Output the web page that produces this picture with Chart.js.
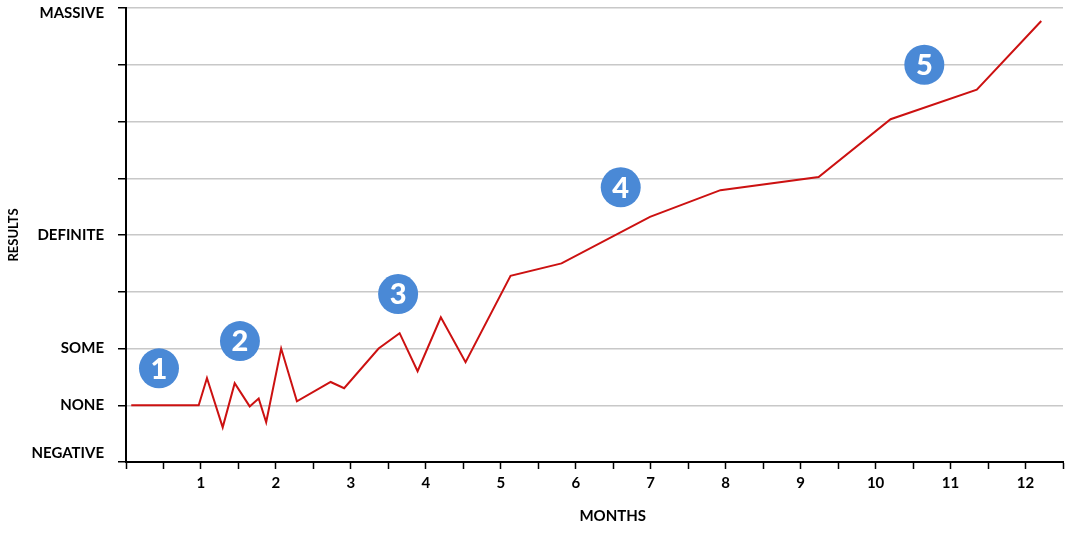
<!DOCTYPE html>
<html>
<head>
<meta charset="utf-8">
<script src="https://cdn.jsdelivr.net/npm/chart.js@4/dist/chart.umd.min.js"></script>
<style>
  html, body { margin: 0; padding: 0; background: #fff; }
  #wrap { width: 1085px; height: 535px; }
</style>
</head>
<body>
<div id="wrap"><canvas id="myChart"></canvas></div>
<script>
// months (x) and results (y)
const months  = [0.07, 0.97, 1.08, 1.29, 1.45, 1.65, 1.77, 1.87, 2.07, 2.28, 2.73, 2.91, 3.37, 3.65, 3.89, 4.20, 4.53, 5.13, 5.81, 6.99, 7.93, 9.24, 10.20, 11.35, 12.21];
const results = [0, 0, 0.48, -0.39, 0.39, -0.02, 0.12, -0.30, 1.00, 0.07, 0.41, 0.30, 1.00, 1.27, 0.60, 1.55, 0.76, 2.28, 2.50, 3.32, 3.79, 4.02, 5.04, 5.56, 6.77];

// numbered stage markers
const markerX = [0.44, 1.52, 3.63, 6.60, 10.65];
const markerY = [0.65, 1.13, 1.96, 3.84, 6.00];
const markerLabels = ['1', '2', '3', '4', '5'];

// y axis: only some steps get a name
const yTickValues = [-1, 0, 1, 3, 7];
const yTickNames  = [['NEGATIVE', ''], 'NONE', 'SOME', 'DEFINITE', ['', 'MASSIVE']];

const labelFont = { family: 'Lato', weight: 'bold', size: 15 };

// write the stage numbers inside the blue dots
const markerText = {
  id: 'markerText',
  afterDatasetsDraw(chart) {
    const meta = chart.getDatasetMeta(1);
    const ctx = chart.ctx;
    ctx.save();
    ctx.fillStyle = '#fff';
    ctx.font = '900 29px Lato';
    ctx.textAlign = 'center';
    ctx.textBaseline = 'middle';
    meta.data.forEach((pt, i) => {
      ctx.fillText(markerLabels[i], pt.x, pt.y + 1);
    });
    ctx.restore();
  }
};

const ctx = document.getElementById('myChart').getContext('2d');
new Chart(ctx, {
  type: 'line',
  data: {
    datasets: [{
      data: months.map((m, i) => ({ x: m, y: results[i] })),
      borderColor: '#cc1111',
      borderWidth: 2,
      pointRadius: 0,
      tension: 0
    }, {
      data: markerX.map((m, i) => ({ x: m, y: markerY[i] })),
      showLine: false,
      pointRadius: 20,
      pointBackgroundColor: '#4a89d6',
      pointBorderWidth: 0
    }]
  },
  options: {
    responsive: true,
    maintainAspectRatio: false,
    animation: false,
    layout: { autoPadding: false, padding: { top: 0, right: 22, bottom: 10, left: 0 } },
    plugins: {
      legend: { display: false },
      tooltip: { enabled: false }
    },
    scales: {
      x: {
        type: 'linear',
        min: 0,
        max: 12.5,
        afterFit: s => { s.height = 63; },
        border: { color: '#000', width: 2 },
        grid: { drawOnChartArea: false, tickColor: '#000', tickLength: 7, tickWidth: 1.5 },
        ticks: {
          stepSize: 0.5,
          autoSkip: false,
          maxRotation: 0,
          padding: 5,
          color: '#000',
          font: labelFont,
          callback: v => (Number.isInteger(v) && v > 0) ? String(v) : ''
        },
        title: {
          display: true,
          text: '          MONTHS',
          color: '#000',
          font: { family: 'Lato', weight: 'bold', size: 15 },
          padding: 0
        }
      },
      y: {
        min: -1,
        max: 7,
        afterFit: s => { s.width = 126; s.paddingTop = 8; s.paddingBottom = 0; },
        border: { color: '#000', width: 2 },
        grid: { color: '#c8c8c8', lineWidth: 1.5, tickColor: '#000', tickLength: 8, tickWidth: 1.5 },
        ticks: {
          stepSize: 1,
          autoSkip: false,
          padding: 14,
          color: '#000',
          font: c => (c.tick && c.tick.value === 7)
            ? { family: 'Lato', weight: 'bold', size: 15, lineHeight: 0.7 }
            : labelFont,
          callback: v => {
            const k = yTickValues.indexOf(v);
            return k >= 0 ? yTickNames[k] : '';
          }
        },
        title: {
          display: true,
          text: 'RESULTS',
          color: '#000',
          font: { family: 'Lato', weight: 'bold', size: 13 },
          padding: { top: 6, bottom: 0 }
        }
      }
    }
  },
  plugins: [markerText]
});
</script>
</body>
</html>
